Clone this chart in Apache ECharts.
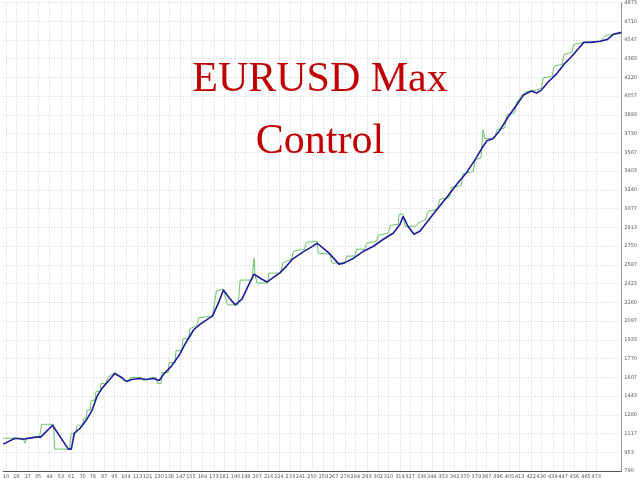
<!DOCTYPE html>
<html><head><meta charset="utf-8">
<script src="https://cdn.jsdelivr.net/npm/echarts@6/dist/echarts.min.js"></script>
<style>html,body{margin:0;padding:0;background:#fff}#c{width:640px;height:480px}</style>
</head><body><div id="c"></div>
<script>
const titleLines = ['EURUSD Max', 'Control'];
const xTickLabels = [10,18,27,35,44,53,61,70,78,87,95,104,113,121,130,138,147,155,164,173,181,190,198,207,216,224,233,241,250,259,267,276,284,293,302,310,319,327,336,344,353,362,370,379,387,396,405,413,422,430,439,447,456,465,473];
const yMin = 790, yStep = 163.3333;
const yTickCount = 25;

// trade number
const blueX = [7.7,17.0,23.2,33.3,37.1,46.4,58.8,61.1,63.5,68.1,72.8,77.4,81.3,85.2,90.6,95.2,100.7,104.5,108.4,114.6,120.0,125.5,130.1,134.0,139.4,145.6,151.0,157.2,162.6,172.0,176.6,180.5,185.1,189.8,195.2,199.8,204.5,209.1,214.6,220.0,224.6,230.0,234.7,239.3,244.0,249.4,254.1,258.7,263.4,271.1,275.0,282.7,290.5,298.2,306.0,313.7,319.1,321.5,325.3,330.0,334.6,340.8,348.6,356.3,364.1,371.8,378.0,383.5,387.3,392.0,396.6,404.4,410.6,416.0,422.2,426.1,430.0,435.4,441.6,447.8,453.2,458.6,463.3,468.7,476.4,481.9,486.5,492.7];
const blueY = [1024,1076,1067,1085,1085,1189,981,981,1119,1163,1232,1319,1440,1510,1579,1640,1605,1570,1588,1596,1588,1596,1579,1640,1700,1796,1908,2021,2073,2142,2255,2368,2298,2238,2290,2402,2506,2472,2437,2480,2515,2576,2637,2671,2706,2741,2775,2732,2689,2593,2602,2645,2706,2749,2810,2862,2940,3009,2923,2853,2879,2966,3078,3183,3296,3399,3504,3607,3668,3685,3746,3884,3980,4067,4102,4085,4110,4180,4249,4336,4396,4466,4526,4526,4535,4552,4596,4613];

const greenX = [7.7,23.2,24.7,26.3,27.8,36.3,37.9,47.2,48.0,59.6,61.1,64.2,65.8,69.7,71.2,72.8,73.5,75.9,76.6,79.7,80.5,83.6,84.4,88.3,89.8,92.9,95.2,99.1,101.4,106.1,107.6,116.2,117.7,123.9,127.8,128.6,131.6,132.4,137.1,137.8,142.5,143.3,147.9,148.7,153.3,154.1,159.5,161.1,172.0,173.5,175.0,180.5,182.0,183.6,192.1,193.6,202.9,204.5,205.3,206.8,215.3,216.1,225.4,227.0,233.9,235.5,244.0,245.5,254.1,254.8,264.1,265.7,275.8,277.3,283.5,285.1,291.3,292.8,300.6,302.1,309.9,311.4,317.6,318.4,321.5,323.0,331.5,333.1,339.3,340.8,348.6,350.1,357.9,359.4,367.2,368.7,376.5,378.0,382.7,384.2,385.8,393.5,395.1,401.3,402.8,409.0,410.6,416.8,426.1,430.0,431.5,438.5,440.0,446.2,447.8,454.0,455.5,463.3,476.4,480.3,492.7];
const greenY = [1076,1076,1033,1076,1085,1093,1197,1197,981,981,1119,1119,1189,1189,1249,1249,1319,1319,1406,1406,1484,1484,1553,1553,1605,1631,1648,1614,1579,1579,1605,1605,1579,1605,1605,1553,1553,1648,1648,1735,1735,1839,1839,1943,1943,2030,2056,2125,2142,2255,2359,2376,2359,2238,2238,2454,2454,2645,2506,2428,2428,2515,2515,2602,2637,2706,2723,2784,2793,2689,2680,2602,2602,2663,2663,2723,2723,2775,2793,2845,2862,2931,2940,3027,3027,2923,2923,2949,2983,3053,3070,3157,3174,3261,3278,3382,3399,3503,3521,3764,3685,3694,3764,3781,3894,3911,4006,4093,4110,4128,4215,4232,4318,4336,4422,4440,4509,4526,4535,4587,4604];

const pairs = (xs, ys) => xs.map((x, i) => [x, ys[i]]);
const chart = echarts.init(document.getElementById('c'), null, {renderer: 'canvas'});
chart.setOption({
  animation: false,
  backgroundColor: '#ffffff',
  title: {
    text: titleLines.join('\n'),
    left: 'center',
    top: 44,
    textStyle: {fontFamily: 'Liberation Serif', fontSize: 42, fontWeight: 'normal', color: '#c00000', lineHeight: 62}
  },
  grid: {left: 0, right: 14, top: 0, bottom: 9, containLabel: false},
  xAxis: {
    type: 'value', min: 7.68, max: 492.7,
    axisLine: {show: true, lineStyle: {color: '#555555', width: 1}},
    axisTick: {show: false, customValues: xTickLabels},
    axisLabel: {show: true, customValues: xTickLabels, fontSize: 5, color: '#555555', margin: 3, fontFamily: 'DejaVu Sans'},
    splitLine: {show: true, lineStyle: {color: '#cfcfcf', type: [1, 2], width: 1}}
  },
  yAxis: {
    type: 'value', position: 'right',
    min: yMin, max: yMin + yStep * yTickCount, interval: yStep,
    axisLine: {show: true, lineStyle: {color: '#999999', width: 1}},
    axisTick: {show: false},
    axisLabel: {fontSize: 5, color: '#555555', margin: 3, fontFamily: 'DejaVu Sans', formatter: v => String(Math.round(v))},
    splitLine: {show: true, lineStyle: {color: '#cfcfcf', type: [1, 2], width: 1}}
  },
  series: [
    {type: 'line', data: pairs(greenX, greenY), showSymbol: false, symbol: 'none', lineStyle: {color: '#6cc46c', width: 1}, z: 2},
    {type: 'line', data: pairs(blueX, blueY), showSymbol: false, symbol: 'none', lineStyle: {color: '#1c1c9c', width: 1.6}, z: 3}
  ]
});
</script></body></html>
